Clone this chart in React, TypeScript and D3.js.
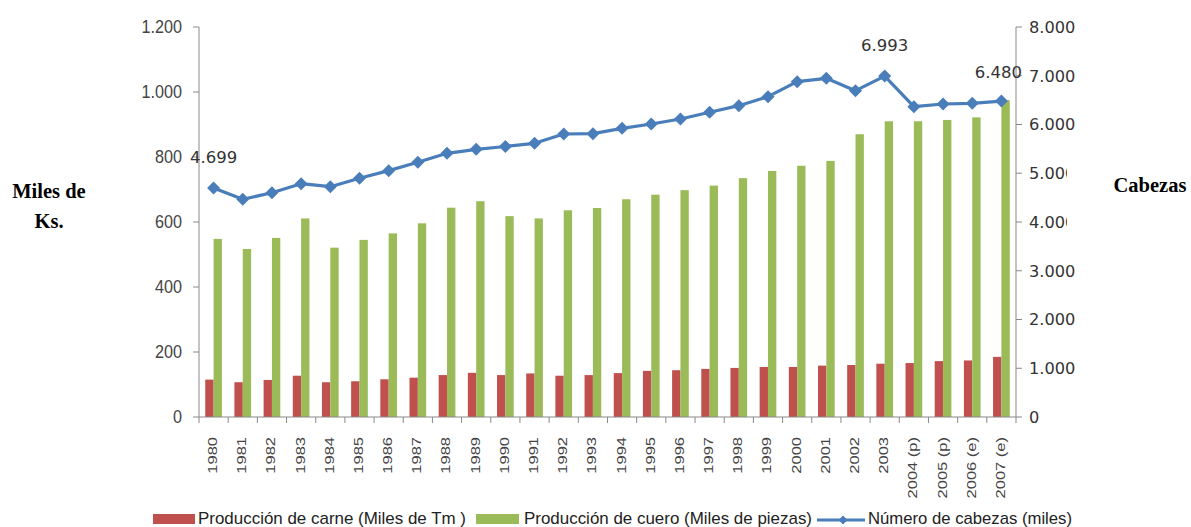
import React from 'react';
import * as d3 from 'd3';

const years = ['1980','1981','1982','1983','1984','1985','1986','1987','1988','1989','1990','1991','1992','1993','1994','1995','1996','1997','1998','1999','2000','2001','2002','2003','2004 (p)','2005 (p)','2006 (e)','2007 (e)'];
const carne = [115,107,114,127,107,110,116,121,129,136,129,134,127,129,135,142,144,148,151,154,154,158,160,164,166,172,174,185];
const cuero = [548,517,551,611,521,545,565,596,644,664,618,611,636,643,670,684,698,712,735,757,773,788,870,910,910,914,922,975];
const cabezas = [4699,4466,4601,4786,4724,4896,5053,5224,5409,5491,5549,5614,5805,5812,5921,6010,6113,6250,6386,6571,6878,6947,6694,6993,6365,6420,6435,6480];
const labelledPoints = [0, 23, 27];
const leftTicks = [0,200,400,600,800,1000,1200];
const rightTicks = [0,1000,2000,3000,4000,5000,6000,7000,8000];
const seriesNames = ['Producción de carne (Miles de Tm )','Producción de cuero (Miles de piezas)','Número de cabezas (miles)'];
const barKeys = ['carne','cuero'];

const RED = '#C0504D';
const GREEN = '#9BBB59';
const BLUE = '#4A7EBB';
const AXIS = '#898989';

const loc = d3.formatLocale({ decimal: ',', thousands: '.', grouping: [3], currency: ['', ''] });
const fmt = loc.format(',');

export default function App() {
  const left = 199, right = 1016, top = 27, bottom = 417;
  const x0 = d3.scaleBand<string>().domain(years).range([left, right]).paddingInner(0.428).paddingOuter(0.214);
  const x1 = d3.scaleBand<string>().domain(barKeys).range([0, x0.bandwidth()]);
  const step = x0.step();
  const cx = (i: number) => (x0(years[i]) as number) + x0.bandwidth() / 2;
  const yL = d3.scaleLinear().domain([0, 1200]).range([bottom, top]);
  const yR = d3.scaleLinear().domain([0, 8000]).range([bottom, top]);
  const line = d3.line<number>().x((_, i) => cx(i)).y(d => yR(d));
  const diamond = (x: number, y: number, r: number) => `M${x},${y - r}L${x + r},${y}L${x},${y + r}L${x - r},${y}Z`;

  return (
    <svg width={1191} height={527} style={{ position: 'absolute', left: 0, top: 0, background: '#fff' }}>
      <rect x={0} y={0} width={1191} height={527} fill="#fff" />
      {/* bars */}
      {years.map((yr, i) => (
        <g key={yr}>
          <rect x={(x0(yr) as number) + (x1('carne') as number)} y={yL(carne[i])} width={x1.bandwidth()} height={bottom - yL(carne[i])} fill={RED} />
          <rect x={(x0(yr) as number) + (x1('cuero') as number)} y={yL(cuero[i])} width={x1.bandwidth()} height={bottom - yL(cuero[i])} fill={GREEN} />
        </g>
      ))}
      {/* axes */}
      <line x1={left} x2={left} y1={top} y2={bottom} stroke={AXIS} strokeWidth={1} />
      <line x1={right} x2={right} y1={top} y2={bottom} stroke={AXIS} strokeWidth={1} />
      <line x1={left} x2={right} y1={bottom} y2={bottom} stroke={AXIS} strokeWidth={1} />
      {leftTicks.map(t => (
        <g key={'l' + t}>
          <line x1={left - 6} x2={left} y1={yL(t)} y2={yL(t)} stroke={AXIS} />
          <text transform={`translate(182,${yL(t)}) scale(0.9,1)`} dy="0.36em" textAnchor="end" fontFamily="Liberation Sans, Arial, sans-serif" fontSize={18} fill="#444">{fmt(t)}</text>
        </g>
      ))}
      {rightTicks.map(t => (
        <g key={'r' + t}>
          <line x1={right} x2={right + 6} y1={yR(t)} y2={yR(t)} stroke={AXIS} />
          <text x={1029} y={yR(t)} dy="0.36em" textAnchor="start" fontFamily="DejaVu Sans, Verdana, sans-serif" fontSize={16.2} fill="#333">{fmt(t)}</text>
        </g>
      ))}
      {years.map((yr, i) => (
        <line key={'xt' + yr} x1={left + step * (i + 1)} x2={left + step * (i + 1)} y1={bottom} y2={bottom + 6} stroke={AXIS} />
      ))}
      <line x1={left} x2={left} y1={bottom} y2={bottom + 6} stroke={AXIS} />
      {years.map((yr, i) => (
        <text key={'xl' + yr} transform={`translate(${cx(i) - 1},437) rotate(-90) scale(1,0.75)`} dy="0.36em" textAnchor="end" fontFamily="Liberation Sans, Arial, sans-serif" fontSize={16.5} fill="#444">{yr}</text>
      ))}
      {/* line series */}
      <path d={line(cabezas) as string} fill="none" stroke={BLUE} strokeWidth={3.2} strokeLinejoin="round" />
      {cabezas.map((v, i) => (
        <path key={'m' + i} d={diamond(cx(i), yR(v), 6.5)} fill={BLUE} />
      ))}
      {labelledPoints.map(i => (
        <text key={'dl' + i} x={cx(i) - (i === 27 ? 3 : 0)} y={yR(cabezas[i]) - (i === 27 ? 29 : 31)} dy="0.36em" textAnchor="middle" fontFamily="DejaVu Sans, Verdana, sans-serif" fontSize={16.5} fill="#333">{fmt(cabezas[i])}</text>
      ))}
      {/* text box covering right labels */}
      <rect x={1067} y={150} width={124} height={104} fill="#fff" />
      {/* axis titles */}
      <text x={49} y={198} textAnchor="middle" fontFamily="Liberation Serif, Times New Roman, serif" fontWeight="bold" fontSize={20.5} fill="#000">Miles de</text>
      <text x={49} y={228} textAnchor="middle" fontFamily="Liberation Serif, Times New Roman, serif" fontWeight="bold" fontSize={20.5} fill="#000">Ks.</text>
      <text x={1150} y={192} textAnchor="middle" fontFamily="Liberation Serif, Times New Roman, serif" fontWeight="bold" fontSize={20.5} fill="#000">Cabezas</text>
      {/* legend */}
      <rect x={153} y={514} width={42} height={10} fill={RED} />
      <text x={198} y={524} textLength={268} lengthAdjust="spacingAndGlyphs" fontFamily="Liberation Sans, Arial, sans-serif" fontSize={17} fill="#222">{seriesNames[0]}</text>
      <rect x={476} y={514} width={43} height={10} fill={GREEN} />
      <text x={524} y={524} textLength={288} lengthAdjust="spacingAndGlyphs" fontFamily="Liberation Sans, Arial, sans-serif" fontSize={17} fill="#222">{seriesNames[1]}</text>
      <line x1={817} x2={865} y1={520} y2={520} stroke={BLUE} strokeWidth={3} />
      <path d={diamond(843, 520, 4.5)} fill={BLUE} />
      <text x={868} y={524} textLength={204} lengthAdjust="spacingAndGlyphs" fontFamily="Liberation Sans, Arial, sans-serif" fontSize={17} fill="#222">{seriesNames[2]}</text>
    </svg>
  );
}
